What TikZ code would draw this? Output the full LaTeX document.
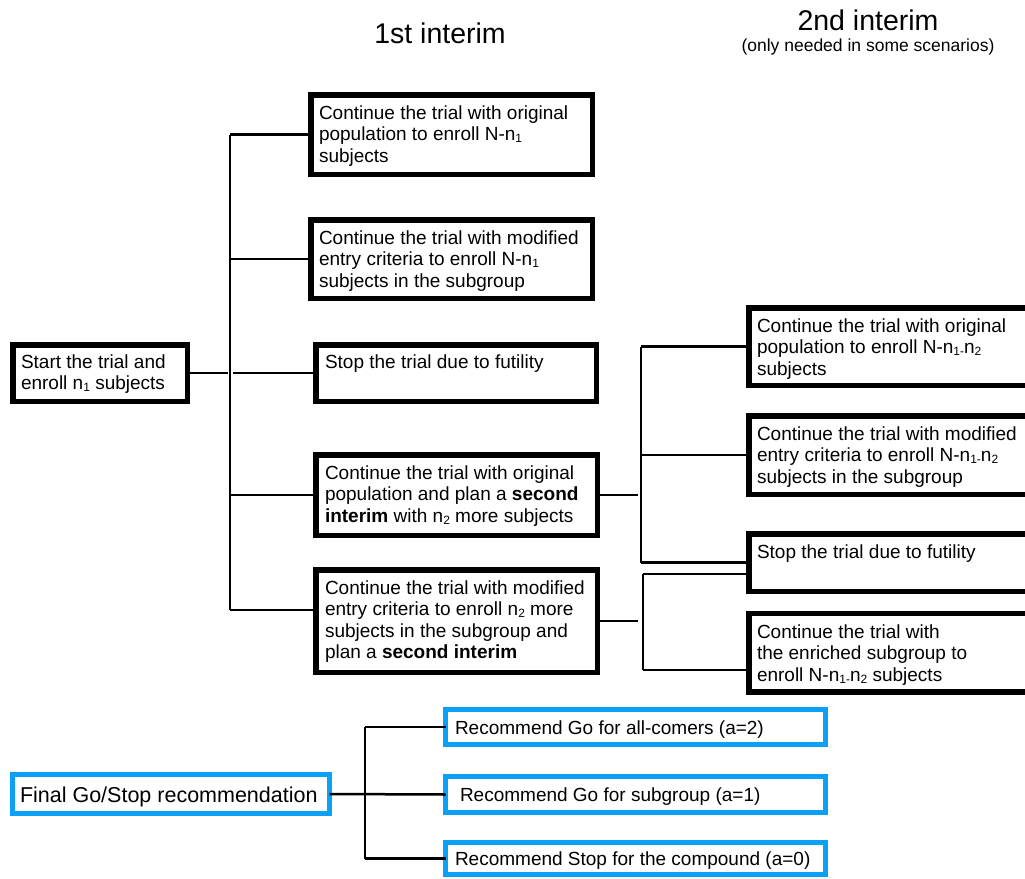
\documentclass[tikz,border=0pt]{standalone}
\usepackage{fontspec}
\setmainfont{Liberation Sans}
\definecolor{skyblue}{RGB}{10,160,245}
\newcommand\mysub[1]{\raisebox{-2.2pt}{\fontsize{12}{12}\selectfont #1}}
\begin{document}
\begin{tikzpicture}[x=1pt,y=-1pt,
  bbox/.style={draw=black, line width=5.5pt, rectangle, inner sep=0pt, outer sep=0pt},
  cbox/.style={draw=skyblue, line width=5pt, rectangle, inner sep=0pt, outer sep=0pt},
  txt/.style={inner sep=0pt, outer sep=0pt, align=left, anchor=north west, font=\fontsize{19}{21.5}\selectfont},
  ltxt/.style={inner sep=0pt, outer sep=0pt, anchor=base west, font=\fontsize{19}{21.5}\selectfont},
  conn/.style={draw=black, line width=2.5pt}]
\useasboundingbox (0,0) rectangle (1025,878);
% headers
\node[inner sep=0pt, font=\fontsize{28.5}{30}\selectfont] (h1) at (440,33) {1st interim};
\node[inner sep=0pt, font=\fontsize{28.5}{30}\selectfont] (h2) at (868,20) {2nd interim};
\node[inner sep=0pt, font=\fontsize{17.5}{19}\selectfont] (h2s) at (868,47) {(only needed in some scenarios)};
% boxes
\node[bbox, minimum width=174.5pt, minimum height=56.5pt] (start) at (100,373) {};
\node[bbox, minimum width=281.5pt, minimum height=79.5pt] (a1) at (451.5,134.5) {};
\node[bbox, minimum width=281.5pt, minimum height=78.5pt] (a2) at (451.5,259) {};
\node[bbox, minimum width=280.5pt, minimum height=56.5pt] (a3) at (456,373) {};
\node[bbox, minimum width=281.5pt, minimum height=80.5pt] (a4) at (456.5,495) {};
\node[bbox, minimum width=281.5pt, minimum height=102.5pt] (a5) at (456.5,621) {};
\node[bbox, minimum width=278.5pt, minimum height=77.5pt] (b1) at (888.25,346.5) {};
\node[bbox, minimum width=278.5pt, minimum height=78.5pt] (b2) at (888.25,455) {};
\node[bbox, minimum width=278.5pt, minimum height=57.5pt] (b3) at (888.25,562.5) {};
\node[bbox, minimum width=278.5pt, minimum height=78.5pt] (b4) at (888.25,652.5) {};
\node[cbox, minimum width=317pt, minimum height=39pt] (fin) at (171,794) {};
\node[cbox, minimum width=380pt, minimum height=35pt] (c1) at (635.5,727) {};
\node[cbox, minimum width=380pt, minimum height=36pt] (c2) at (635.5,794.5) {};
\node[cbox, minimum width=380pt, minimum height=32pt] (c3) at (635.5,858.5) {};
% texts
\node[txt] (startt) at (21,353) {\strut Start the trial and\\enroll n\mysub{1} subjects};
\node[txt] (a1t) at (319,104) {\strut Continue the trial with original\\population to enroll N-n\mysub{1}\\subjects};
\node[txt] (a2t) at (319,229) {\strut Continue the trial with modified\\entry criteria to enroll N-n\mysub{1}\\subjects in the subgroup};
\node[txt] (a3t) at (325,353) {\strut Stop the trial due to futility};
\node[txt] (a4t) at (325,464) {\strut Continue the trial with original\\population and plan a \textbf{second}\\\textbf{interim} with n\mysub{2} more subjects};
\node[txt] (a5t) at (325,579) {\strut Continue the trial with modified\\entry criteria to enroll n\mysub{2} more\\subjects in the subgroup and\\plan a \textbf{second interim}};
\node[txt] (b1t) at (757,317) {\strut Continue the trial with original\\population to enroll N-n\mysub{1-}n\mysub{2}\\subjects};
\node[txt] (b2t) at (757,425) {\strut Continue the trial with modified\\entry criteria to enroll N-n\mysub{1-}n\mysub{2}\\subjects in the subgroup};
\node[txt] (b3t) at (757,543) {\strut Stop the trial due to futility};
\node[txt] (b4t) at (757,623) {\strut Continue the trial with\\the enriched subgroup to\\enroll N-n\mysub{1-}n\mysub{2} subjects};
\node[ltxt, font=\fontsize{21.5}{24}\selectfont] (fint) at (20,802) {Final Go/Stop recommendation};
\node[ltxt] (c1t) at (455,734) {Recommend Go for all-comers (a=2)};
\node[ltxt] (c2t) at (460,801) {Recommend Go for subgroup (a=1)};
\node[ltxt] (c3t) at (455,865) {Recommend Stop for the compound (a=0)};
% connectors: first interim
\coordinate (v1) at (230,0);
\coordinate (v1l) at (227.5,0);
\coordinate (v1r) at (233,0);
\coordinate (a5in) at ([yshift=11pt]a5.west);
\draw[conn] (start.east) -- (v1l |- start.east);
\draw[conn] (v1 |- a1.west) -- (v1 |- a5in);
\draw[conn] (v1 |- a1.west) -- (a1.west);
\draw[conn] (v1 |- a2.west) -- (a2.west);
\draw[conn] (v1r |- a3.west) -- (a3.west);
\draw[conn] (v1 |- a4.west) -- (a4.west);
\draw[conn] (v1 |- a5in) -- (a5in);
% second interim group 1
\coordinate (v2) at (641,0);
\coordinate (v2l) at (637.5,0);
\draw[conn] (a4.east) -- (v2l |- a4.east);
\draw[conn] (v2 |- b1.west) -- (v2 |- b3.west);
\draw[conn] (v2 |- b1.west) -- (b1.west);
\draw[conn] (v2 |- b2.west) -- (b2.west);
\draw[conn] (v2 |- b3.west) -- (b3.west);
% second interim group 2
\coordinate (v3) at (643,0);
\coordinate (v3l) at (638,0);
\coordinate (a5out) at (a5.east);
\coordinate (b3in) at ([yshift=-11.5pt]b3.west);
\coordinate (b4in) at ([yshift=-17.5pt]b4.west);
\draw[conn] (a5out) -- (v3l |- a5out);
\draw[conn] (v3 |- b3in) -- (v3 |- b4in);
\draw[conn] (v3 |- b3in) -- (b3in);
\draw[conn] (v3 |- b4in) -- (b4in);
% final recommendation
\coordinate (v4) at (365,0);
\draw[conn] (fin.east) -- (c2.west);
\draw[conn] (v4 |- c1.west) -- (v4 |- c3.west);
\draw[conn] (v4 |- c1.west) -- (c1.west);
\draw[conn] (v4 |- c3.west) -- (c3.west);
\end{tikzpicture}
\end{document}
